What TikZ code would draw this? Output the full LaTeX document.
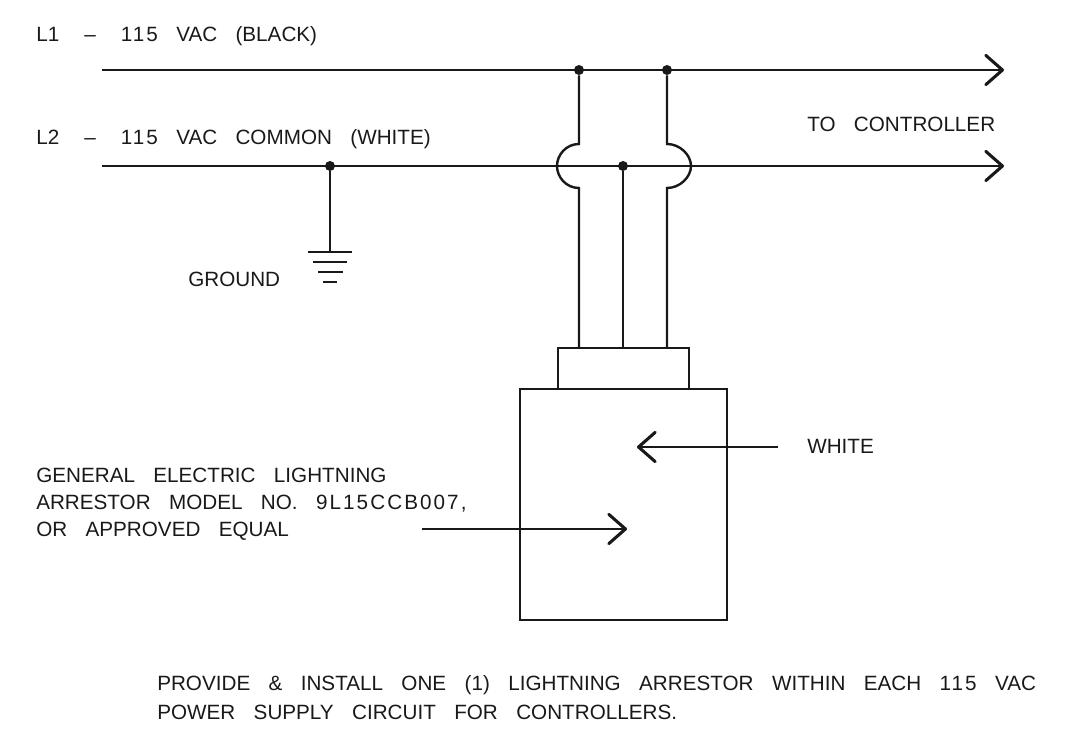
\documentclass[tikz,border=0pt]{standalone}
\usepackage{fontspec}
\setmainfont[WordSpace=3.2]{Liberation Sans}
\usepackage{xcolor}
\usetikzlibrary{arrows.meta}
\newcommand{\wdash}{\hspace{5pt}--\hspace{5pt}}
\newcommand{\nums}[1]{{\addfontfeature{LetterSpace=10}#1}}

\begin{document}
\begin{tikzpicture}[x=0.75pt, y=-0.75pt,
  wire/.style={line width=1.8pt, black!90},
  barb/.style={-{Straight Barb[round, length=12.5pt, width=22pt, line width=2.3pt]}},
  dot/.style={circle, fill=black!90, inner sep=0pt, minimum size=7.5pt},
  lbl/.style={anchor=base west, inner sep=0pt, font=\fontsize{15.5}{21}\selectfont, black!90}]
\useasboundingbox (0,0) rectangle (1072,741);
\node[lbl] (l1text) at (36,42) {L1 \wdash{} \nums{115} VAC (BLACK)};
\node[lbl] (l2text) at (36,145) {L2 \wdash{} \nums{115} VAC COMMON (WHITE)};
\node[lbl] (ctrltext) at (807,132) {TO CONTROLLER};
\node[lbl] (gndtext) at (188,287) {GROUND};
\node[lbl] (whitetext) at (807,454) {WHITE};
\node[lbl] (arrtexta) at (36,483) {GENERAL ELECTRIC LIGHTNING};
\node[lbl] (arrtextb) at (36,510) {ARRESTOR MODEL NO. \nums{9L15CCB007,}};
\node[lbl] (arrtextc) at (36,537) {OR APPROVED EQUAL};
\node[lbl] (notetexta) at (157,691) {PROVIDE \& INSTALL ONE (1) LIGHTNING ARRESTOR WITHIN EACH \nums{115} VAC};
\node[lbl] (notetextb) at (157,719) {POWER SUPPLY CIRCUIT FOR CONTROLLERS.};
\coordinate (l1start) at (102,70);
\coordinate (l1end) at (1004,70);
\coordinate (l2start) at (102,166);
\coordinate (l2end) at (1004,166);
\node[dot] (j1) at (579,70) {};
\node[dot] (j2) at (667,70) {};
\node[dot] (j3) at (623,166) {};
\node[dot] (j4) at (330,166) {};
\draw[wire, barb] (l1start) -- (l1end);
\draw[wire, barb] (l2start) -- (l2end);
\node[draw, wire, inner sep=0pt] (cap) at (623.5,368.5) [minimum width=98.25pt, minimum height=30.75pt] {};
\node[draw, wire, inner sep=0pt] (box) at (623.5,504.5) [minimum width=155.25pt, minimum height=173.25pt] {};
\draw[wire] (j1) -- (579,144) .. controls (566,144) and (557,155) .. (557,166)
  .. controls (557,177) and (566,188) .. (579,188) -- (cap.north -| j1);
\draw[wire] (j2) -- (667,144) .. controls (680,144) and (691,155) .. (691,166)
  .. controls (691,177) and (680,188) .. (667,188) -- (cap.north -| j2);
\draw[wire] (j3) -- (cap.north -| j3);
\coordinate (gnd) at (330,252);
\draw[wire] (j4) -- (gnd);
\draw[wire] (308,252) -- (352,252);
\draw[wire] (313,262) -- (347,262);
\draw[wire] (318,272) -- (343,272);
\draw[wire] (323,282) -- (337,282);
\coordinate (whitefrom) at (778,447);
\coordinate (whiteto) at (637,447);
\coordinate (arrfrom) at (422,529);
\coordinate (arrto) at (627,529);
\draw[wire, barb] (whitefrom) -- (whiteto);
\draw[wire, barb] (arrfrom) -- (arrto);
\end{tikzpicture}
\end{document}
